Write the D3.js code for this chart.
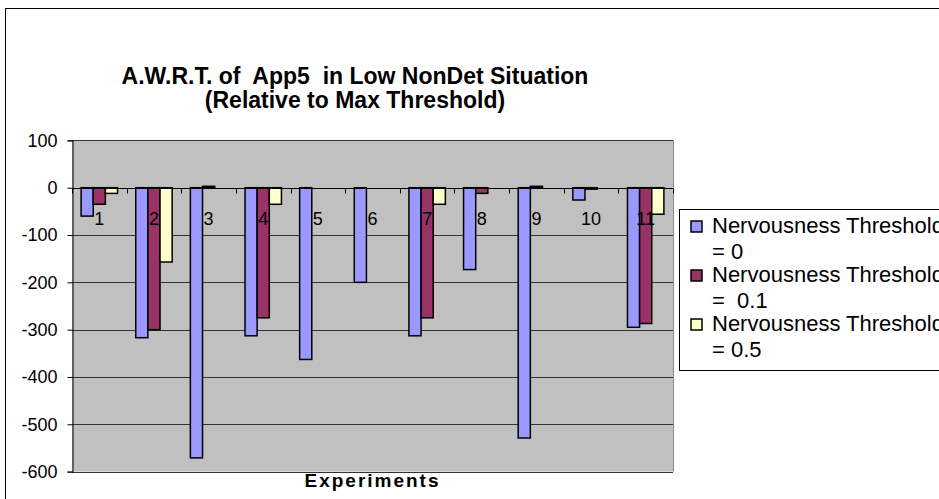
<!DOCTYPE html>
<html>
<head>
<meta charset="utf-8">
<script src="https://cdn.jsdelivr.net/npm/d3@7"></script>
<style>
  html, body { margin: 0; padding: 0; background: #fff; overflow: hidden; }
  svg { display: block; font-family: "Liberation Sans", Arial, sans-serif; }
  .pre { white-space: pre; }
</style>
</head>
<body>
<svg id="chart" width="939" height="499"></svg>
<script>
// Experiments along the x axis
const experiments = ["1", "2", "3", "4", "5", "6", "7", "8", "9", "10", "11"];

// One series per nervousness threshold
const seriesNames = ["Nervousness Threshold = 0", "Nervousness Threshold = 0.1", "Nervousness Threshold = 0.5"];
const legendLines = [["Nervousness Threshold", "= 0"], ["Nervousness Threshold", "=  0.1"], ["Nervousness Threshold", "= 0.5"]];
const threshold0   = [-60, -317, -571, -313, -363, -200, -313, -173, -529, -26, -295];
const threshold01  = [-35, -300, 3, -275, 0, 0, -275, -12, 3, -3, -287];
const threshold05  = [-12, -157, 0, -35, 0, 0, -35, 0, 0, 0, -56];
const seriesColors = ["#9999FF", "#993366", "#FFFFCC"];

// Value axis ticks
const yTicks = [100, 0, -100, -200, -300, -400, -500, -600];

const titleLines = ["A.W.R.T. of  App5  in Low NonDet Situation", "(Relative to Max Threshold)"];
const xTitle = "Experiments";

const values = [threshold0, threshold01, threshold05];

const svg = d3.select("#chart");

// outer chart frame
svg.append("rect")
  .attr("x", 5.5).attr("y", 8.5)
  .attr("width", 1100).attr("height", 700)
  .attr("fill", "#fff").attr("stroke", "#000").attr("stroke-width", 1);

const plot = { left: 72, right: 673, top: 140.4, bottom: 471.6 };

const y = d3.scaleLinear().domain([-600, 100]).range([plot.bottom, plot.top]);
const x0 = d3.scaleBand().domain(experiments).range([plot.left, plot.right]).padding(0);
const step = x0.step();
const x1 = d3.scaleBand().domain(d3.range(seriesNames.length))
  .range([step / 6, step * 5 / 6]).padding(0);

// plot area background
svg.append("rect")
  .attr("x", plot.left).attr("y", plot.top)
  .attr("width", plot.right - plot.left).attr("height", plot.bottom - plot.top)
  .attr("fill", "#C0C0C0");

// right edge of the plot area
svg.append("line")
  .attr("x1", plot.right + 0.5).attr("x2", plot.right + 0.5)
  .attr("y1", plot.top).attr("y2", plot.bottom)
  .attr("stroke", "#8a8a8a").attr("stroke-width", 1);

// horizontal gridlines
svg.append("g")
  .selectAll("line")
  .data(yTicks.filter(d => d !== 0))
  .join("line")
  .attr("x1", plot.left).attr("x2", plot.right)
  .attr("y1", d => Math.round(y(d)) + 0.5).attr("y2", d => Math.round(y(d)) + 0.5)
  .attr("stroke", "#333").attr("stroke-width", 1);

// value axis (plain hyphen for negatives)
const yAxis = d3.axisLeft(y).tickValues(yTicks).tickSize(5).tickPadding(10)
  .tickFormat(d => String(d));
const yG = svg.append("g").attr("transform", `translate(${plot.left + 0.5},0)`).call(yAxis);
yG.select(".domain").attr("stroke", "#000");
yG.selectAll(".tick line").attr("stroke", "#000");
yG.selectAll(".tick text")
  .attr("font-size", 18).attr("fill", "#000")
  .attr("font-family", "'Liberation Sans', Arial, sans-serif");

// bars
const groups = svg.append("g").selectAll("g")
  .data(experiments)
  .join("g")
  .attr("transform", d => `translate(${x0(d)},0)`);

groups.selectAll("rect")
  .data((d, i) => values.map((s, k) => ({ k, v: s[i] })))
  .join("rect")
  .attr("x", d => x1(d.k))
  .attr("width", x1.bandwidth())
  .attr("y", d => y(Math.max(0, d.v)))
  .attr("height", d => Math.abs(y(d.v) - y(0)))
  .attr("fill", d => seriesColors[d.k])
  .attr("stroke", "#000").attr("stroke-width", 1.5);

// category axis at zero with ticks between categories
const zeroY = Math.round(y(0)) + 0.5;
svg.append("line")
  .attr("x1", plot.left).attr("x2", plot.right)
  .attr("y1", zeroY).attr("y2", zeroY)
  .attr("stroke", "#000").attr("stroke-width", 1);
const boundaries = experiments.map(d => x0(d)).concat([plot.right]);
svg.append("g").selectAll("line")
  .data(boundaries)
  .join("line")
  .attr("x1", d => Math.round(d) + 0.5).attr("x2", d => Math.round(d) + 0.5)
  .attr("y1", zeroY).attr("y2", zeroY + 5)
  .attr("stroke", "#000").attr("stroke-width", 1);

// category labels drawn over the bars
svg.append("g").selectAll("text")
  .data(experiments)
  .join("text")
  .attr("x", d => x0(d) + step / 2)
  .attr("y", 225)
  .attr("text-anchor", "middle")
  .attr("font-size", 18)
  .attr("fill", "#000")
  .text(d => d);

// chart title
svg.append("g").selectAll("text")
  .data(titleLines)
  .join("text")
  .attr("class", "pre")
  .attr("x", 355)
  .attr("y", (d, i) => 84 + i * 24)
  .attr("text-anchor", "middle")
  .attr("font-size", 23)
  .attr("font-weight", "bold")
  .attr("fill", "#000")
  .text(d => d);

// axis title
svg.append("text")
  .attr("x", (plot.left + plot.right) / 2)
  .attr("y", 487)
  .attr("text-anchor", "middle")
  .attr("font-size", 19)
  .attr("font-weight", "bold")
  .attr("letter-spacing", 2)
  .attr("fill", "#000")
  .text(xTitle);

// legend
const legend = svg.append("g");
legend.append("rect")
  .attr("x", 679.5).attr("y", 209.5)
  .attr("width", 400).attr("height", 161)
  .attr("fill", "#fff").attr("stroke", "#000").attr("stroke-width", 1);

const items = legend.selectAll("g.item")
  .data(seriesNames)
  .join("g")
  .attr("class", "item")
  .attr("transform", (d, i) => `translate(0,${i * 49})`);

items.append("rect")
  .attr("x", 691).attr("y", 221)
  .attr("width", 11).attr("height", 11)
  .attr("fill", (d, i) => seriesColors[i])
  .attr("stroke", "#000").attr("stroke-width", 1.5);

items.append("text")
  .attr("x", 712).attr("y", 233)
  .attr("font-size", 22)
  .attr("fill", "#000")
  .text((d, i) => legendLines[i][0]);

items.append("text")
  .attr("class", "pre")
  .attr("x", 712).attr("y", 259)
  .attr("font-size", 22)
  .attr("fill", "#000")
  .text((d, i) => legendLines[i][1]);
</script>
</body>
</html>
